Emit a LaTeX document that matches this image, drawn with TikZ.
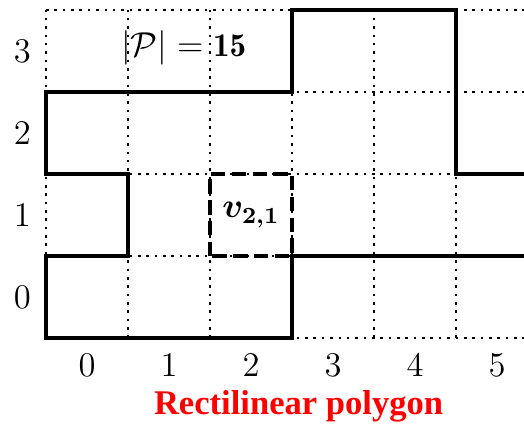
\documentclass[tikz,border=0pt]{standalone}
\usepackage{amsmath}
\usepackage{bm}
\usepackage{fontspec}
\newfontfamily\captionfont{Liberation Serif}
\usetikzlibrary{positioning, calc}
\tikzset{
  gridline/.style={line width=0.9pt, dash pattern=on 0.9pt off 2pt},
  polyline/.style={line width=1.5pt, line join=miter},
  cellbox/.style={line width=1.5pt, dash pattern=on 5pt off 2.2pt},
  axislabel/.style={inner sep=1pt, font=\fontsize{12}{14}\selectfont},
  mathlabel/.style={inner sep=1pt, font=\fontsize{11.5}{13}\selectfont},
  caption/.style={text=red, font=\captionfont\bfseries\fontsize{12}{14}\selectfont},
}

\begin{document}
\begin{tikzpicture}
  \clip (-0.561,-1.061) rectangle (5.829,4.122);

  % dotted grid
  \foreach \i in {0,...,6}
    \draw [gridline] (\i,0) -- (\i,4);
  \foreach \j in {0,...,4}
    \draw [gridline] (0,\j) -- (6.2,\j);

  % polygon boundary
  \draw [polyline] (6.2,2) -- (5,2) -- (5,4) -- (3,4) -- (3,3) -- (0,3) -- (0,2)
    -- (1,2) -- (1,1) -- (0,1) -- (0,0) -- (3,0) -- (3,1) -- (6.2,1);

  % highlighted cell
  \draw [cellbox] (2,1) rectangle (3,2);
  \node (cell) [mathlabel] at (2.5,1.5) {$\bm{v_{2,1}}$};

  % axis labels
  \foreach \i in {0,...,5}
    \node (col\i) [axislabel] at (\i+0.5,-0.33) {$\i$};
  \foreach \j in {0,...,3}
    \node (row\j) [axislabel] at (-0.29,\j+0.5) {$\j$};

  \node (size)  [mathlabel] at (1.68,3.54) {$|\mathcal{P}| = \mathbf{15}$};
  \node (title) [caption]   at (3.08,-0.83) {Rectilinear polygon};
\end{tikzpicture}
\end{document}
